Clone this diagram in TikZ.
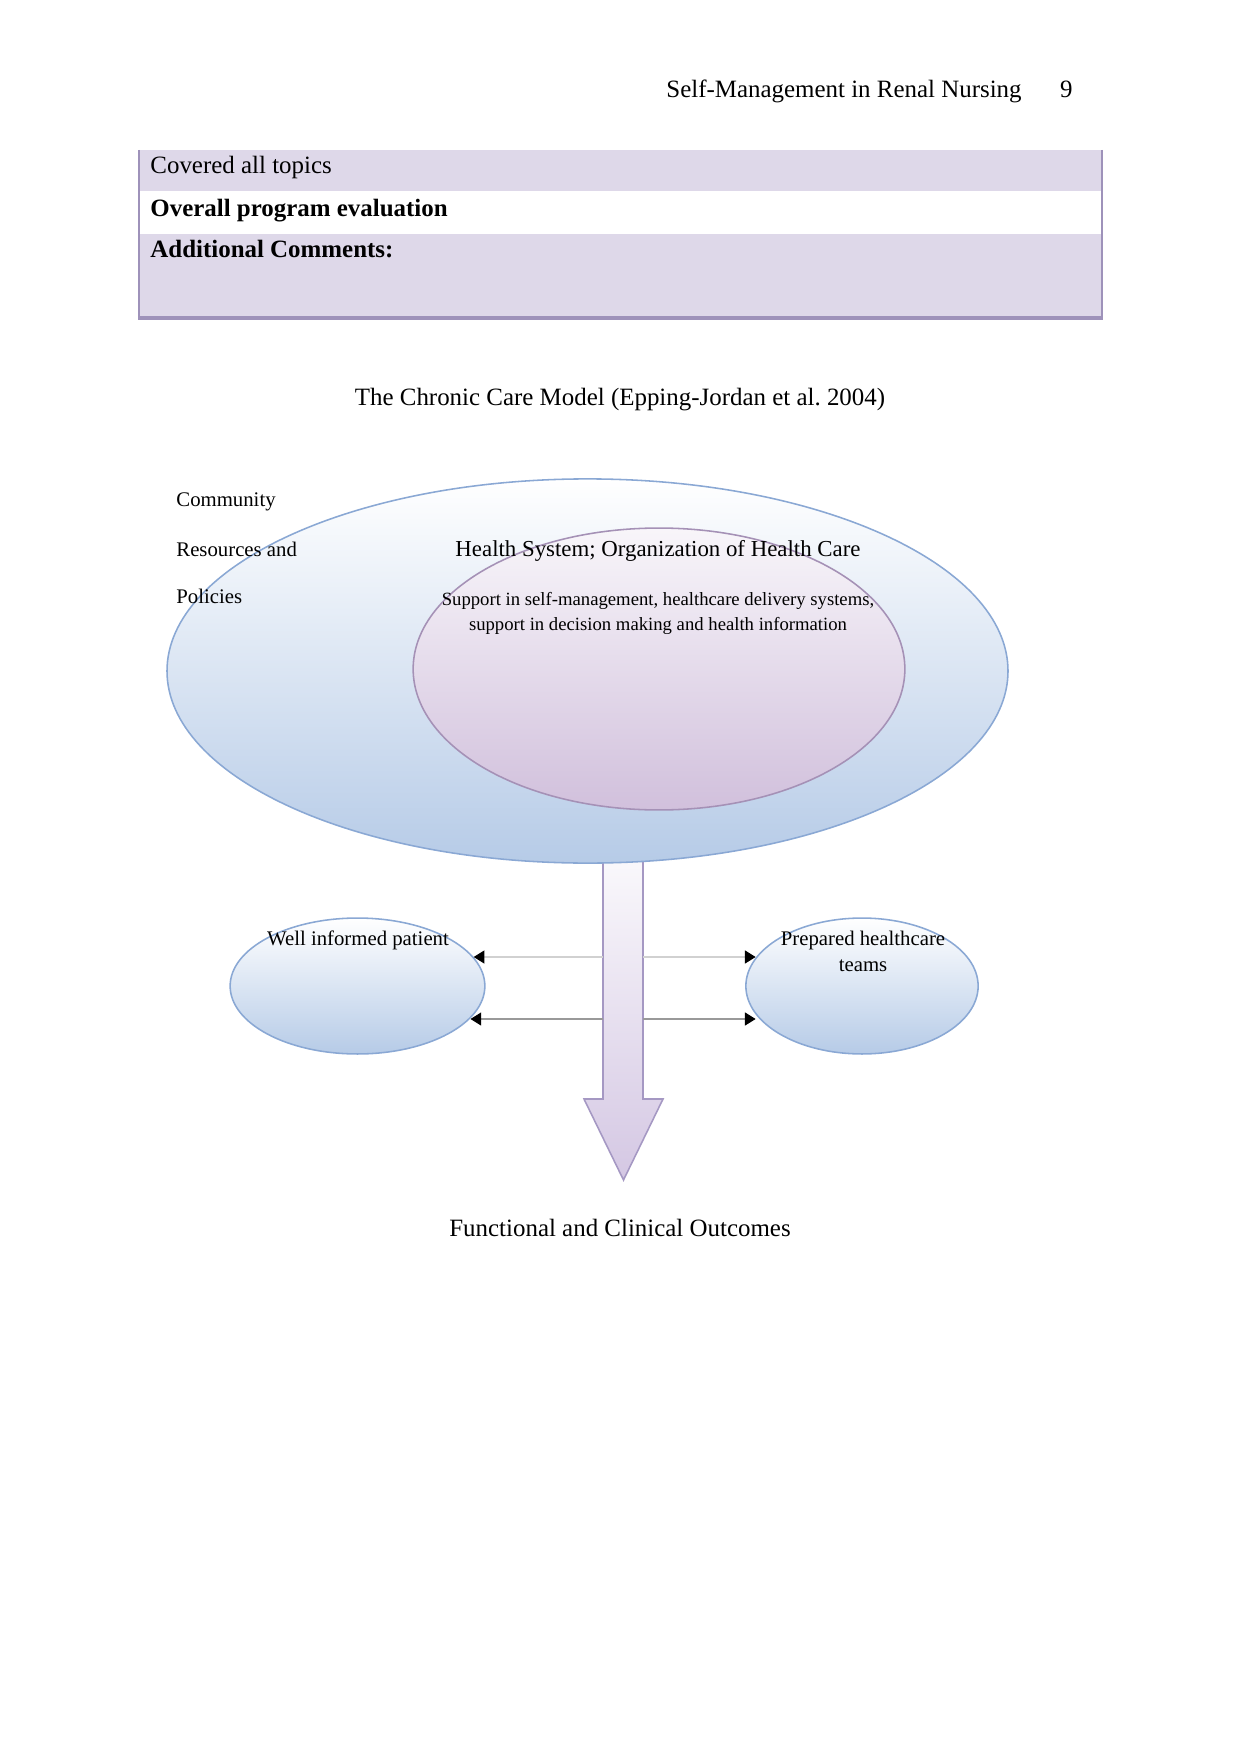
\documentclass[tikz,border=0pt]{standalone}
\usepackage{fontspec}
\setmainfont{Liberation Serif}
\definecolor{cmlav}{RGB}{222,216,233}
\definecolor{cmedge}{RGB}{158,146,186}
\definecolor{cmblue}{RGB}{182,203,231}
\definecolor{cmblueline}{RGB}{138,168,212}
\definecolor{cmmauve}{RGB}{209,192,220}
\definecolor{cmmauveline}{RGB}{165,145,182}
\definecolor{cmarrow}{RGB}{212,199,227}
\definecolor{cmarrowline}{RGB}{165,152,195}
\usetikzlibrary{arrows.meta,shapes.geometric}

\begin{document}
\begin{tikzpicture}[x=0.1692mm, y=-0.1692mm,
    lbl/.style={inner sep=0pt, anchor=base, font=\fontsize{12pt}{14pt}\selectfont},
    ovalbig/.style={ellipse, draw=cmblueline, line width=0.75pt, inner sep=0pt,
      top color=white, bottom color=cmblue},
    ovalin/.style={ellipse, draw=cmmauveline, line width=0.75pt, inner sep=0pt,
      top color=white!85!cmmauve, bottom color=cmmauve},
    ovalsm/.style={ellipse, draw=cmblueline, line width=0.75pt, inner sep=0pt,
      top color=white, bottom color=cmblue, minimum height=23mm},
    connlt/.style={draw=black!18, line width=0.5pt, -{Triangle[length=1.8mm,width=2.2mm,black]}},
    conndk/.style={draw=black!40, line width=0.5pt, -{Triangle[length=1.8mm,width=2.2mm,black]}}
  ]
    \useasboundingbox (0,0) rectangle (1241,1754);

    % Running head
    \node[lbl, anchor=base east] (runhead) at (1022,98) {Self-Management in Renal Nursing};
    \node[lbl, anchor=base east] (pagenum) at (1073,98) {9};

    % Tail of the evaluation table
    \fill[cmlav] (139,150) rectangle (1102,191);
    \fill[cmlav] (139,234) rectangle (1102,318);
    \draw[cmedge, line width=1pt] (139,150) -- (139,318);
    \draw[cmedge, line width=1pt] (1102,150) -- (1102,318);
    \draw[cmedge, line width=1.6pt] (138,318) -- (1103,318);
    \node[lbl, anchor=base west] (rowtopics) at (150,174) {Covered all topics};
    \node[lbl, anchor=base west] (rowoverall) at (150,217) {\bfseries Overall program evaluation};
    \node[lbl, anchor=base west] (rowcomments) at (150,258) {\bfseries Additional Comments:};

    % Caption
    \node[lbl] (caption) at (620,406) {The Chronic Care Model (Epping-Jordan et al.\ 2004)};

    % Big down arrow
    \shade[top color=white!90!cmarrow, bottom color=cmarrow, draw=cmarrowline, line width=0.75pt]
      (603,850) -- (603,1099) -- (584,1099) -- (623.5,1180) -- (663,1099) -- (643,1099)
      -- (643,850) -- cycle;
    \coordinate (shaftW1) at (603,957);
    \coordinate (shaftE1) at (643,957);
    \coordinate (shaftW2) at (603,1019);
    \coordinate (shaftE2) at (643,1019);

    % Ovals
    \node[ovalbig, minimum width=142.3mm, minimum height=65mm] (community) at (587.5,671) {};
    \node[ovalin, minimum width=83.2mm, minimum height=47.7mm] (healthsys) at (659,669) {};
    \node[ovalsm, minimum width=43.1mm] (patient) at (357.5,986) {};
    \node[ovalsm, minimum width=39.3mm] (teams) at (862,986) {};

    % Oval texts
    \node[lbl, anchor=base west, font=\fontsize{10pt}{12pt}\selectfont] (comm1) at (176,506) {Community};
    \node[lbl, anchor=base west, font=\fontsize{10pt}{12pt}\selectfont] (comm2) at (176,556) {Resources and};
    \node[lbl, anchor=base west, font=\fontsize{10pt}{12pt}\selectfont] (comm3) at (176,603) {Policies};
    \node[lbl, font=\fontsize{11pt}{13pt}\selectfont] (hstitle) at (658,556) {Health System; Organization of Health Care};
    \node[lbl, font=\fontsize{9pt}{11pt}\selectfont] (hsline1) at (658,605) {Support in self-management, healthcare delivery systems,};
    \node[lbl, font=\fontsize{9pt}{11pt}\selectfont] (hsline2) at (658,630) {support in decision making and health information};
    \node[lbl, font=\fontsize{10pt}{12pt}\selectfont] (patienttxt) at (358,945) {Well informed patient};
    \node[lbl, font=\fontsize{10pt}{12pt}\selectfont] (teamstxt1) at (863,945) {Prepared healthcare};
    \node[lbl, font=\fontsize{10pt}{12pt}\selectfont] (teamstxt2) at (863,971) {teams};

    % Connectors
    \draw[connlt] (shaftW1) -- (shaftW1 -| patient.14);
    \draw[connlt] (shaftE1) -- (shaftE1 -| teams.165);
    \draw[conndk] (shaftW2) -- (shaftW2 -| patient.-16);
    \draw[conndk] (shaftE2) -- (shaftE2 -| teams.-165);

    % Outcome
    \node[lbl] (outcome) at (620,1236) {Functional and Clinical Outcomes};
  \end{tikzpicture}
\end{document}
